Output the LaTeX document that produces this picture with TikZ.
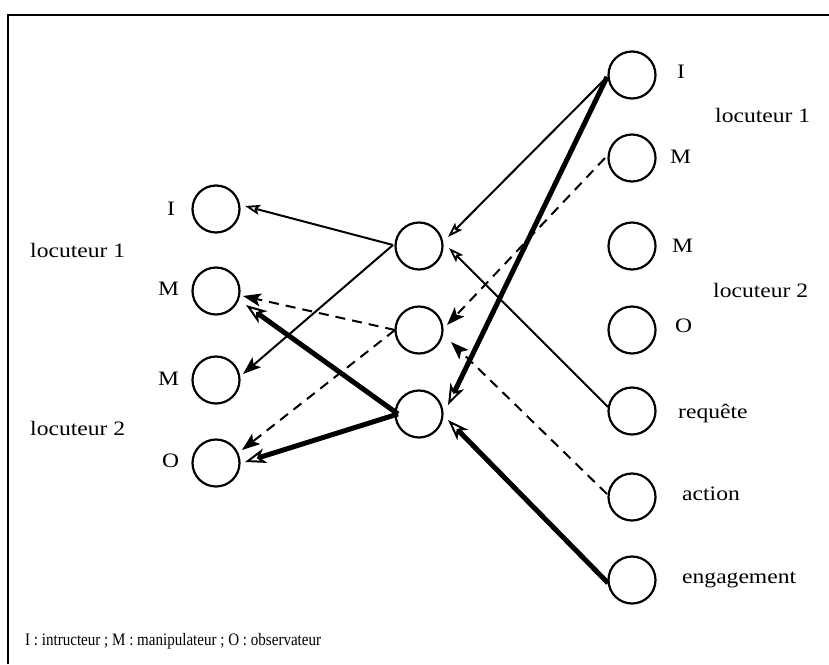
\documentclass[tikz,border=0pt]{standalone}
\usepackage{fontspec}
\setmainfont{Liberation Serif}
\newfontfamily\lblfont[FakeStretch=1.15]{Liberation Serif}
\newfontfamily\legfont[FakeStretch=0.86]{Liberation Serif}
\usetikzlibrary{arrows.meta}
\begin{document}
\begin{tikzpicture}[x=1pt,y=-1pt,
  role/.style={circle,draw,line width=2.2pt,minimum size=47pt,inner sep=0pt},
  lbl/.style={anchor=base west,inner sep=0pt,font=\lblfont\fontsize{20.5}{24}\selectfont},
  thinline/.style={line width=2pt},
  thinopen/.style={thinline,-{Stealth[open,length=15pt,width=10pt,inset=3pt,line width=1.8pt]}},
  thinfill/.style={thinline,-{Stealth[length=18pt,width=13pt,inset=4pt]}},
  dashline/.style={line width=2pt,dash pattern=on 10pt off 7pt,-{Stealth[length=18pt,width=13pt,inset=4pt]}},
  thickline/.style={line width=5pt,-{Stealth[open,length=21pt,width=15pt,inset=6pt,line width=2pt]}},
]
\useasboundingbox (0,0) rectangle (829,664);
\draw[line width=2.8pt] (8,664) -- (8,15) -- (829,15);

% left column
\node[role] (l1) at (216,209) {};
\node[role] (l2) at (216,291) {};
\node[role] (l3) at (216,380) {};
\node[role] (l4) at (216,463) {};
% middle column
\node[role] (m1) at (419,246) {};
\node[role] (m2) at (419,330) {};
\node[role] (m3) at (419,414) {};
% right column
\node[role] (r1) at (632,75) {};
\node[role] (r2) at (632,158) {};
\node[role] (r3) at (632,246) {};
\node[role] (r4) at (632,330) {};
\node[role] (r5) at (632,411) {};
\node[role] (r6) at (632,497) {};
\node[role] (r7) at (632,580) {};

% left labels
\node[lbl] (tl1) at (167,215) {I};
\node[lbl] (tlloc1) at (30,257) {locuteur 1};
\node[lbl] (tl2) at (158,295) {M};
\node[lbl] (tl3) at (158,385) {M};
\node[lbl] (tlloc2) at (30,435) {locuteur 2};
\node[lbl] (tl4) at (162,467) {O};
% right labels
\node[lbl] (tr1) at (677,78) {I};
\node[lbl] (trloc1) at (715,122) {locuteur 1};
\node[lbl] (tr2) at (670,163) {M};
\node[lbl] (tr3) at (672,252) {M};
\node[lbl] (trloc2) at (713,297) {locuteur 2};
\node[lbl] (tr4) at (675,332) {O};
\node[lbl] (tr5) at (678,418) {requête};
\node[lbl] (tr6) at (682,500) {action};
\node[lbl] (tr7) at (682,583) {engagement};

\node[anchor=base west,inner sep=0pt,font=\legfont\fontsize{17.5}{21}\selectfont] (legend) at (25,645) {I : intructeur ; M : manipulateur ; O : observateur};

% middle -> left
\draw[thinopen] ([shift={(-26,-1)}]m1.center) -- ([shift={(29,-3)}]l1.center);
\draw[thinfill] ([shift={(-26,-1)}]m1.center) -- ([shift={(27,-6)}]l3.center);
\draw[dashline] ([shift={(-24,0)}]m2.center) -- ([shift={(27,5)}]l2.center);
\draw[dashline] ([shift={(-24,0)}]m2.center) -- ([shift={(26,-13)}]l4.center);
\draw[thickline] ([shift={(-21,0)}]m3.center) -- ([shift={(30,14)}]l2.center);
\draw[thickline] ([shift={(-21,0)}]m3.center) -- ([shift={(29,-1)}]l4.center);

% right -> middle
\draw[thinopen] ([shift={(-25,2)}]r1.center) -- ([shift={(29,-9)}]m1.center);
\draw[thickline] ([shift={(-25,2)}]r1.center) -- ([shift={(29,-9)}]m3.center);
\draw[dashline] ([shift={(-27,0)}]r2.center) -- ([shift={(28,-5)}]m2.center);
\draw[thinopen] ([shift={(-24,-4)}]r5.center) -- ([shift={(30,2)}]m1.center);
\draw[dashline] ([shift={(-25,-3)}]r6.center) -- ([shift={(32,12)}]m2.center);
\draw[thickline] ([shift={(-24,3)}]r7.center) -- ([shift={(29,6)}]m3.center);
\end{tikzpicture}
\end{document}
